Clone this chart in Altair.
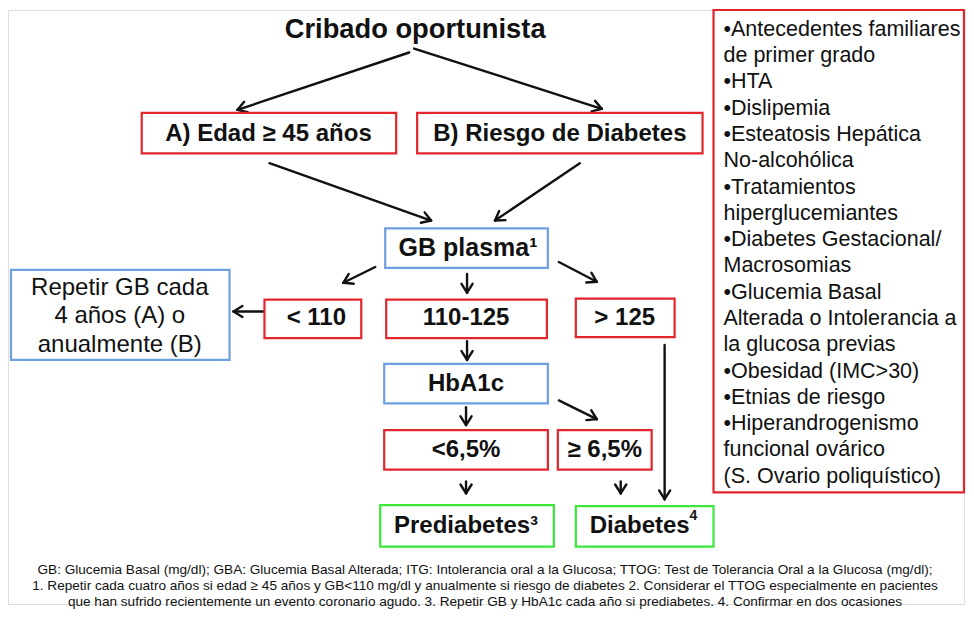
import altair as alt
import pandas as pd
import numpy as np

FONT = "Liberation Sans"

# ---- Flowchart boxes (pixel geometry of the diagram) ----
box_id = ["A", "B", "GB", "lt110", "mid", "gt125", "rep", "hba", "lt65", "ge65", "pre", "dia", "risk"]
box_x1 = [142, 418, 386, 265, 387, 577, 11, 385, 385, 559, 381, 577, 715]
box_x2 = [397, 704, 549, 362, 548, 676, 230, 549, 549, 653, 555, 715, 966]
box_y1 = [112, 112, 229, 301, 301, 300, 271, 366, 433, 433, 509, 510, 8]
box_y2 = [153, 153, 269, 340, 340, 339, 362, 406, 473, 473, 551, 551, 496]
box_kind = ["red", "red", "blue", "red", "red", "red", "blue", "blue", "red", "red", "green", "green", "red"]
kind_colors = {"red": "#e2262c", "blue": "#6e9fde", "green": "#3de63d"}

# ---- Arrows (start -> end) ----
arr_x1 = [410, 415, 270, 581, 376, 468, 560, 265, 468, 560, 467, 467, 622, 666]
arr_y1 = [51, 47, 163, 163, 268, 275, 263, 313, 343, 403, 410, 485, 485, 347]
arr_x2 = [238, 603, 432, 496, 344, 468, 598, 234, 468, 598, 467, 467, 622, 666]
arr_y2 = [109, 108, 221, 221, 284, 294, 283, 313, 362, 422, 428, 497, 497, 503]

# ---- Bold labels in boxes ----
bold_text = ["Cribado oportunista", "A) Edad ≥ 45 años", "B) Riesgo de Diabetes", "GB plasma¹",
             "< 110", "110-125", "> 125", "HbA1c", "<6,5%", "≥ 6,5%", "Prediabetes³", "Diabetes"]
bold_x = [416, 269, 561, 469, 317, 467, 626, 467, 467, 606, 467, 641]
bold_y = [28, 133, 133, 249, 320, 320, 320, 386, 453, 453, 530, 530]
bold_size = [27.3, 24, 24, 25, 24, 24, 24, 24, 24, 24, 24, 24]

# superscript note marks drawn as small raised text
sup_text = ["4"]
sup_x = [691]
sup_y = [520]

# ---- Plain label: repeat box ----
rep_lines = ["Repetir GB cada", "4 años (A) o", "anualmente (B)"]
rep_x = [120, 120, 120]
rep_y = [289, 318, 347]

# ---- Risk factor list (right box) ----
risk_lines = [
    "•Antecedentes  familiares",
    "de primer grado",
    "•HTA",
    "•Dislipemia",
    "•Esteatosis  Hepática",
    "\u00a0No-alcohólica",
    "•Tratamientos",
    "hiperglucemiantes",
    "•Diabetes  Gestacional/",
    "Macrosomias",
    "•Glucemia  Basal",
    "Alterada o Intolerancia a",
    "la glucosa previas",
    "•Obesidad  (IMC>30)",
    "•Etnias de riesgo",
    "•Hiperandrogenismo",
    "funcional ovárico",
    "(S. Ovario poliquístico)",
]
risk_x0 = 725
risk_y0 = 28
risk_step = 26.6

# ---- Footnotes ----
foot_lines = [
    "GB: Glucemia Basal (mg/dl);  GBA: Glucemia Basal Alterada; ITG: Intolerancia oral a la Glucosa;  TTOG: Test de Tolerancia Oral a la Glucosa (mg/dl);",
    "1. Repetir cada cuatro años si edad ≥ 45 años y GB<110 mg/dl  y anualmente  si riesgo de diabetes 2. Considerar el TTOG  especialmente en pacientes",
    "que han sufrido recientemente un evento coronario agudo. 3. Repetir GB y HbA1c cada año si prediabetes. 4. Confirmar en dos ocasiones",
]
foot_x = 486
foot_y = [575, 591, 607]

# ---------------------------------------------------------------
XS = alt.Scale(domain=[8, 966], nice=False, zero=False)
YS = alt.Scale(domain=[8, 609], nice=False, zero=False, reverse=True)


def X(f):
    return alt.X(f"{f}:Q", scale=XS, axis=None)


def Y(f):
    return alt.Y(f"{f}:Q", scale=YS, axis=None)


boxes = pd.DataFrame({
    "id": box_id, "x": box_x1, "x2": box_x2, "y": box_y1, "y2": box_y2,
    "col": [kind_colors[k] for k in box_kind],
})
box_layer = alt.Chart(boxes).mark_rect(fill="white", strokeWidth=2.2).encode(
    x=X("x"), x2="x2", y=Y("y"), y2="y2",
    stroke=alt.Stroke("col:N", scale=None),
)

# arrows: shafts and open chevron heads
ax1, ay1, ax2, ay2 = map(np.array, (arr_x1, arr_y1, arr_x2, arr_y2))
segs = {"x": list(ax1), "y": list(ay1), "x2": list(ax2), "y2": list(ay2)}
theta = np.arctan2(ay2 - ay1, ax2 - ax1)
L, a = 10.5, np.radians(32)
for sgn in (1, -1):
    hx = ax2 - L * np.cos(theta + sgn * a)
    hy = ay2 - L * np.sin(theta + sgn * a)
    segs["x"] += list(hx)
    segs["y"] += list(hy)
    segs["x2"] += list(ax2)
    segs["y2"] += list(ay2)
arrows = pd.DataFrame(segs)
arrow_layer = alt.Chart(arrows).mark_rule(color="#111111", strokeWidth=2.4, strokeCap="round").encode(
    x=X("x"), y=Y("y"), x2="x2", y2="y2",
)

bold_df = pd.DataFrame({"t": bold_text, "x": bold_x, "y": bold_y, "s": bold_size})
bold_layer = alt.Chart(bold_df).mark_text(
    font=FONT, fontWeight="bold", color="#111111", align="center", baseline="middle"
).encode(x=X("x"), y=Y("y"), text="t:N", size=alt.Size("s:Q", scale=None))

sup_df = pd.DataFrame({"t": sup_text, "x": sup_x, "y": sup_y})
sup_layer = alt.Chart(sup_df).mark_text(
    font=FONT, fontWeight="bold", fontSize=14, color="#111111", align="left", baseline="middle"
).encode(x=X("x"), y=Y("y"), text="t:N")

rep_df = pd.DataFrame({"t": rep_lines, "x": rep_x, "y": rep_y})
rep_layer = alt.Chart(rep_df).mark_text(
    font=FONT, fontSize=24, color="#111111", align="center", baseline="middle"
).encode(x=X("x"), y=Y("y"), text="t:N")

risk_df = pd.DataFrame({
    "t": risk_lines,
    "x": [risk_x0] * len(risk_lines),
    "y": [risk_y0 + i * risk_step for i in range(len(risk_lines))],
})
risk_layer = alt.Chart(risk_df).mark_text(
    font=FONT, fontSize=21.5, color="#111111", align="left", baseline="middle"
).encode(x=X("x"), y=Y("y"), text="t:N")

foot_df = pd.DataFrame({"t": foot_lines, "x": [foot_x] * 3, "y": foot_y})
foot_layer = alt.Chart(foot_df).mark_text(
    font=FONT, fontSize=13.6, color="#111111", align="center", baseline="middle"
).encode(x=X("x"), y=Y("y"), text="t:N")

chart = alt.layer(
    arrow_layer, box_layer, bold_layer, sup_layer, rep_layer, risk_layer, foot_layer
).properties(
    width=958, height=601, padding=0,
    autosize=alt.AutoSizeParams(type="fit", contains="padding"),
).configure_view(strokeWidth=0, stroke="transparent", strokeOpacity=0).configure(background="white")

chart.save("out.html", embed_options={"renderer": "svg", "actions": False})
